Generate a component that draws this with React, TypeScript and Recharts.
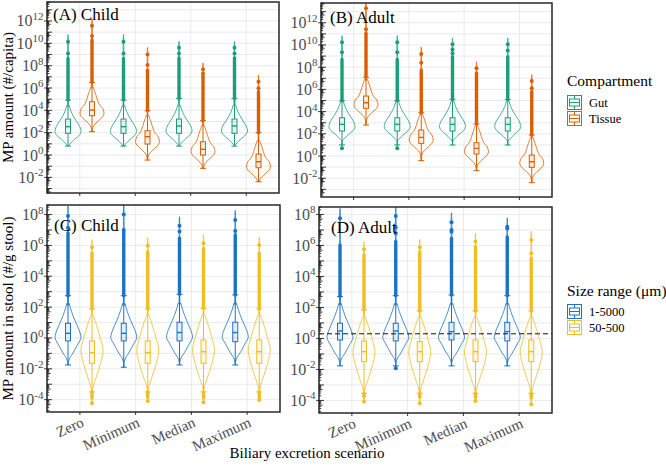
import React from 'react';
import { ComposedChart, Bar, XAxis, YAxis, CartesianGrid, ReferenceLine } from 'recharts';

const FONT = '"Liberation Serif", "Times New Roman", serif';

// all values are log10 of the quantity
const scenarios = ['Zero', 'Minimum', 'Median', 'Maximum'];

const childGut = [
  { max: 10.14, dots: [9.1], dense: 8.65, whiHi: 4.92, q3: 3.22, med: 2.54, q1: 1.94, whiLo: 0.8, min: 0.8, peak: 2.1 },
  { max: 10.14, dots: [9.1], dense: 8.65, whiHi: 4.92, q3: 3.22, med: 2.54, q1: 1.94, whiLo: 0.8, min: 0.8, peak: 2.1 },
  { max: 9.6, dots: [9.1], dense: 8.7, whiHi: 5.07, q3: 3.22, med: 2.6, q1: 1.94, whiLo: 0.8, min: 0.8, peak: 2.15 },
  { max: 9.6, dots: [9.1], dense: 8.7, whiHi: 5.07, q3: 3.22, med: 2.6, q1: 1.94, whiLo: 0.8, min: 0.8, peak: 2.15 },
];
const childTissue = [
  { max: 11.58, dots: [10.65], dense: 10.3, whiHi: 6.5, q3: 4.77, med: 4.03, q1: 3.52, whiLo: 2.09, min: 2.09, peak: 3.73 },
  { max: 9.0, dots: [8.06], dense: 7.6, whiHi: 3.97, q3: 2.18, med: 1.64, q1: 0.98, whiLo: -0.45, min: -0.45, peak: 1.19 },
  { max: 7.67, dots: [7.3], dense: 7.1, whiHi: 3.07, q3: 1.19, med: 0.51, q1: 0.0, whiLo: -1.19, min: -1.19, peak: 0.3 },
  { max: 6.56, dots: [5.97], dense: 5.67, whiHi: 2.0, q3: 0.09, med: -0.6, q1: -1.14, whiLo: -2.39, min: -2.39, peak: -1.05 },
];
const adultGut = [
  { max: 10.24, dots: [9.34], dense: 8.7, whiHi: 4.98, q3: 3.45, med: 2.85, q1: 2.25, whiLo: 1.0, min: 0.69, peak: 2.64 },
  { max: 10.24, dots: [9.34], dense: 8.7, whiHi: 4.98, q3: 3.45, med: 2.85, q1: 2.25, whiLo: 1.0, min: 0.69, peak: 2.64 },
  { max: 10.06, dots: [9.6, 9.25], dense: 8.95, whiHi: 5.1, q3: 3.45, med: 2.85, q1: 2.25, whiLo: 0.99, min: 0.99, peak: 2.64 },
  { max: 10.06, dots: [9.5], dense: 8.95, whiHi: 5.1, q3: 3.45, med: 2.85, q1: 2.25, whiLo: 0.99, min: 0.99, peak: 2.64 },
];
const adultTissue = [
  { max: 13.3, dots: [11.41], dense: 11.05, whiHi: 7.09, q3: 5.4, med: 4.8, q1: 4.3, whiLo: 2.79, min: 2.79, peak: 4.6 },
  { max: 9.19, dots: [8.4], dense: 7.75, whiHi: 3.9, q3: 2.34, med: 1.68, q1: 1.14, whiLo: -0.42, min: -0.42, peak: 1.44 },
  { max: 7.9, dots: [], dense: 7.45, whiHi: 2.88, q3: 1.2, med: 0.69, q1: 0.18, whiLo: -1.32, min: -1.32, peak: 0.39 },
  { max: 6.76, dots: [6.1], dense: 5.8, whiHi: 1.89, q3: 0.09, med: -0.51, q1: -1.02, whiLo: -2.4, min: -2.4, peak: -0.66 },
];
const childLarge = [
  { max: 7.91, dots: [7.15], dense: 6.8, whiHi: 2.74, q3: 0.95, med: 0.3, q1: -0.19, whiLo: -1.75, min: -1.75, peak: 0.02 },
  { max: 8.0, dots: [7.0], dense: 6.89, whiHi: 2.74, q3: 0.95, med: 0.3, q1: -0.19, whiLo: -1.9, min: -1.9, peak: 0.02 },
  { max: 7.28, dots: [6.9], dense: 6.46, whiHi: 2.83, q3: 1.02, med: 0.35, q1: -0.19, whiLo: -1.75, min: -1.75, peak: 0.05 },
  { max: 7.65, dots: [6.93], dense: 6.68, whiHi: 2.79, q3: 1.02, med: 0.35, q1: -0.24, whiLo: -1.75, min: -1.75, peak: 0.05 },
];
const childSmall = [
  { max: 5.88, dots: [], dense: 5.49, whiHi: 1.88, q3: -0.19, med: -0.95, q1: -1.64, whiLo: -3.5, lowDense: -3.9, min: -4.23, peak: -0.78 },
  { max: 5.98, dots: [], dense: 5.59, whiHi: 1.88, q3: -0.19, med: -0.95, q1: -1.64, whiLo: -3.5, lowDense: -3.85, min: -4.08, peak: -0.78 },
  { max: 6.14, dots: [], dense: 5.81, whiHi: 1.92, q3: -0.13, med: -0.89, q1: -1.64, whiLo: -3.5, lowDense: -3.9, min: -4.17, peak: -0.75 },
  { max: 6.03, dots: [], dense: 5.49, whiHi: 1.88, q3: -0.13, med: -0.89, q1: -1.64, whiLo: -3.5, lowDense: -3.85, min: -4.02, peak: -0.75 },
];
const adultLarge = [
  { max: 7.75, dots: [], dense: 6.03, whiHi: 2.7, q3: 0.98, med: 0.48, q1: -0.1, whiLo: -1.77, min: -1.77, peak: 0.05 },
  { max: 7.9, dots: [7.15, 6.79], dense: 6.25, whiHi: 2.76, q3: 0.98, med: 0.48, q1: -0.16, whiLo: -1.77, min: -1.92, peak: 0.05 },
  { max: 7.5, dots: [7.0, 6.89], dense: 6.46, whiHi: 2.8, q3: 1.04, med: 0.44, q1: -0.1, whiLo: -1.77, min: -1.77, peak: 0.05 },
  { max: 7.21, dots: [7.1], dense: 6.55, whiHi: 2.76, q3: 1.04, med: 0.44, q1: -0.16, whiLo: -1.77, min: -1.77, peak: 0.05 },
];
const adultSmall = [
  { max: 5.75, dots: [], dense: 5.39, whiHi: 1.84, q3: -0.16, med: -0.85, q1: -1.5, whiLo: -3.54, lowDense: -3.76, min: -4.08, peak: -0.85 },
  { max: 5.88, dots: [], dense: 5.6, whiHi: 1.77, q3: -0.2, med: -0.85, q1: -1.5, whiLo: -3.54, lowDense: -3.8, min: -4.18, peak: -0.85 },
  { max: 6.25, dots: [], dense: 5.92, whiHi: 1.77, q3: -0.1, med: -0.85, q1: -1.5, whiLo: -3.54, lowDense: -3.8, min: -4.03, peak: -0.85 },
  { max: 6.35, dots: [5.5], dense: 5.17, whiHi: 1.77, q3: -0.1, med: -0.85, q1: -1.5, whiLo: -3.54, lowDense: -3.85, min: -4.24, peak: -0.85 },
];

// violin outlines: [decades from the peak, relative density]
const gutShape = [[-1.3, 0.03], [-1.05, 0.2], [-0.7, 0.5], [-0.35, 0.85], [0, 1], [0.45, 0.9], [0.9, 0.66], [1.4, 0.4], [1.8, 0.24], [2.3, 0.1], [2.8, 0.04]];
const tissueShape = [[-1.6, 0.03], [-1.25, 0.08], [-0.95, 0.25], [-0.6, 0.6], [-0.3, 0.88], [0, 1], [0.45, 0.89], [0.9, 0.56], [1.8, 0.28], [2.3, 0.12], [2.8, 0.04]];
const largeShape = [[-1.6, 0.04], [-1.3, 0.15], [-1.0, 0.38], [-0.4, 0.77], [0, 1], [0.5, 0.85], [1.1, 0.54], [1.7, 0.27], [2.2, 0.1], [2.6, 0.04]];
const smallShape = [[-2.7, 0.05], [-2.27, 0.15], [-1.62, 0.45], [-0.75, 0.82], [0, 1], [0.78, 0.75], [1.6, 0.42], [2.2, 0.14], [2.7, 0.04]];

const safeLine = 0.3; // dashed reference, 10^0.3

const GREEN = '#1b9e77';
const ORANGE = '#d95f02';
const BLUE = '#1a73c6';
const YELLOW = '#efbe22';

function interp(shape: number[][], off: number) {
  if (off <= shape[0][0] || off >= shape[shape.length - 1][0]) return 0.025;
  for (let i = 1; i < shape.length; i++) {
    const [a, wa] = shape[i - 1];
    const [b, wb] = shape[i];
    if (off <= b) return wa + ((off - a) / (b - a)) * (wb - wa);
  }
  return 0.025;
}

function smooth(pts: number[][]) {
  let d = `M${pts[0][0]},${pts[0][1]}`;
  for (let i = 0; i < pts.length - 1; i++) {
    const p0 = pts[i - 1] || pts[i];
    const p1 = pts[i];
    const p2 = pts[i + 1];
    const p3 = pts[i + 2] || p2;
    const c1x = p1[0] + (p2[0] - p0[0]) / 6;
    const c1y = p1[1] + (p2[1] - p0[1]) / 6;
    const c2x = p2[0] - (p3[0] - p1[0]) / 6;
    const c2y = p2[1] - (p3[1] - p1[1]) / 6;
    d += ` C${c1x},${c1y} ${c2x},${c2y} ${p2[0]},${p2[1]}`;
  }
  return d + 'Z';
}

function Violin(props: any) {
  const { x, y, width, height, payload, sk, color, half, shape } = props;
  const s = payload?.[sk];
  if (!s) return null;
  const top = Math.min(y, y + height);
  const k = Math.abs(height) / (s.max - s.min);
  const py = (v: number) => top + (s.max - v) * k;
  const cx = x + width / 2;
  const levels = [s.min, ...shape.map((p: number[]) => s.peak + p[0]).filter((v: number) => v > s.min && v < s.max), s.max];
  const right = levels.map((v: number) => [cx + half * interp(shape, v - s.peak), py(v)]);
  const left = levels.slice().reverse().map((v: number) => [cx - half * interp(shape, v - s.peak), py(v)]);
  const lowEnd = s.lowDense ?? s.whiLo;
  return (
    <g>
      <path d={smooth([...right, ...left])} fill="none" stroke={color} strokeWidth={1} strokeOpacity={0.8} />
      <line x1={cx} x2={cx} y1={py(s.whiHi)} y2={py(s.dense)} stroke={color} strokeWidth={3.4} strokeLinecap="round" />
      {[s.max, ...s.dots].map((d: number, i: number) => (
        <circle key={i} cx={cx} cy={py(d)} r={2} fill={color} />
      ))}
      <line x1={cx} x2={cx} y1={py(s.q3)} y2={py(s.whiHi)} stroke={color} strokeWidth={1} />
      <line x1={cx} x2={cx} y1={py(s.q1)} y2={py(s.whiLo)} stroke={color} strokeWidth={1} />
      <line x1={cx - 3} x2={cx + 3} y1={py(s.whiHi)} y2={py(s.whiHi)} stroke={color} strokeWidth={1} />
      <line x1={cx - 3} x2={cx + 3} y1={py(s.whiLo)} y2={py(s.whiLo)} stroke={color} strokeWidth={1} />
      <rect x={cx - 2.5} y={py(s.q3)} width={5} height={py(s.q1) - py(s.q3)} fill={color} fillOpacity={0.12} stroke={color} strokeWidth={1} />
      <line x1={cx - 2.5} x2={cx + 2.5} y1={py(s.med)} y2={py(s.med)} stroke={color} strokeWidth={1.4} />
      {s.lowDense !== undefined && (
        <line x1={cx} x2={cx} y1={py(s.whiLo)} y2={py(s.lowDense)} stroke={color} strokeWidth={3.4} strokeLinecap="round" />
      )}
      {s.min < lowEnd - 0.01 && <circle cx={cx} cy={py(s.min)} r={2} fill={color} />}
    </g>
  );
}

function logTicks(lo: number, hi: number) {
  const out: number[] = [];
  for (let n = Math.floor(lo); n <= Math.ceil(hi); n++) {
    for (let k = 1; k <= 9; k++) {
      const v = n + Math.log10(k);
      if (v >= lo && v <= hi) out.push(v);
    }
  }
  return out;
}

const makeYTick = (labels: number[]) => (p: any) => {
  const { x, y, payload } = p;
  const v = payload.value;
  const n = Math.round(v);
  const isDec = Math.abs(v - n) < 1e-6;
  const k = Math.round(Math.pow(10, v - Math.floor(v + 1e-9)));
  const len = isDec ? 5 : k === 5 ? 3.6 : 2.2;
  return (
    <g>
      <line x1={x} x2={x + len} y1={y} y2={y} stroke="#222" strokeWidth={0.9} />
      {isDec && labels.includes(n) && (
        <g>
          <line x1={x - 3} x2={x} y1={y} y2={y} stroke="#333" strokeWidth={0.9} />
          <text x={x - 3.5} y={y + 5.5} textAnchor="end" fontFamily={FONT} fontSize={16} fill="#4d4d4d">
            10<tspan dy={-6.5} fontSize={11}>{n}</tspan>
          </text>
        </g>
      )}
    </g>
  );
};

const XTick = (p: any) => {
  const { x, y, payload } = p;
  const tx = x + 5;
  const ty = y + 11;
  return (
    <text x={tx} y={ty} transform={`rotate(-24 ${tx} ${ty})`} textAnchor="end" fontFamily={FONT} fontSize={15} fill="#4d4d4d">
      {payload.value}
    </text>
  );
};
const NoTick = () => <g />;

function Panel(props: any) {
  const { left, top, width, height, margin, yWidth, xHeight, domain, labels, a, b, showX, refY } = props;
  const rows = scenarios.map((name, i) => ({ name, a: a.data[i], b: b.data[i] }));
  const decades: number[] = [];
  for (let n = Math.ceil(domain[0]); n <= Math.floor(domain[1]); n++) decades.push(n);
  return (
    <div style={{ position: 'absolute', left, top, width, height }}>
      <ComposedChart width={width} height={height} data={rows} margin={margin} barGap={0} style={{ overflow: 'visible' }}>
        <CartesianGrid stroke="#e4e4e4" strokeWidth={0.8} horizontalValues={decades} />
        <XAxis
          dataKey="name"
          type="category"
          padding={{ left: 5, right: 5 }}
          height={xHeight}
          tickSize={3}
          tickMargin={0}
          axisLine={false}
          stroke="#333"
          interval={0}
          tick={showX ? XTick : NoTick}
        />
        <YAxis
          type="number"
          domain={domain}
          allowDataOverflow
          width={yWidth}
          ticks={logTicks(domain[0], domain[1])}
          interval={0}
          tickSize={0}
          tickMargin={0}
          axisLine={false}
          tickLine={false}
          tick={makeYTick(labels)}
        />
        {[a, b].map((s: any, i: number) => (
          <Bar
            key={i}
            name={s.name}
            dataKey={(r: any) => [r[i === 0 ? 'a' : 'b'].min, r[i === 0 ? 'a' : 'b'].max]}
            barSize={24}
            isAnimationActive={false}
            shape={(p: any) => <Violin {...p} sk={i === 0 ? 'a' : 'b'} color={s.color} half={s.half} shape={s.shape} />}
          />
        ))}
        {refY !== undefined && <ReferenceLine y={refY} stroke="#111" strokeDasharray="5 3" strokeWidth={1} />}
      </ComposedChart>
    </div>
  );
}

function Key({ x, y, c }: { x: number; y: number; c: string }) {
  const s = 15;
  return (
    <g stroke={c} strokeWidth={1} fill="none">
      <rect x={x + 0.5} y={y + 0.5} width={s - 1} height={s - 1} />
      <rect x={x + 2.5} y={y + 4} width={s - 5} height={s - 8} />
      <line x1={x + 2.5} x2={x + s - 2.5} y1={y + s / 2} y2={y + s / 2} />
      <line x1={x + s / 2} x2={x + s / 2} y1={y + 0.5} y2={y + 4} />
      <line x1={x + s / 2} x2={x + s / 2} y1={y + s - 4} y2={y + s - 0.5} />
    </g>
  );
}

export default function App() {
  const gut = { name: 'Gut', color: GREEN, half: 13, shape: gutShape };
  const tissue = { name: 'Tissue', color: ORANGE, half: 12, shape: tissueShape };
  const large = { name: '1-5000', color: BLUE, half: 13, shape: largeShape };
  const small = { name: '50-500', color: YELLOW, half: 11, shape: smallShape };
  const txt = { fontFamily: FONT };
  return (
    <div style={{ position: 'absolute', left: 0, top: 0, width: 666, height: 470, background: '#fff' }}>
      <Panel left={0} top={0} width={282} height={200} margin={{ top: 2, right: 3, bottom: 0, left: 0 }}
        yWidth={47} xHeight={7} domain={[-3.4, 13.7]} labels={[-2, 0, 2, 4, 6, 8, 10, 12]}
        a={{ ...gut, data: childGut }} b={{ ...tissue, data: childTissue }} showX={false} />
      <Panel left={280} top={0} width={275} height={204} margin={{ top: 3, right: 3, bottom: 0, left: 0 }}
        yWidth={41} xHeight={7} domain={[-3.69, 13.78]} labels={[-2, 0, 2, 4, 6, 8, 10, 12]}
        a={{ ...gut, data: adultGut }} b={{ ...tissue, data: adultTissue }} showX={false} />
      <Panel left={0} top={200} width={283} height={270} margin={{ top: 5, right: 3, bottom: 0, left: 0 }}
        yWidth={47} xHeight={58} domain={[-4.8, 8.62]} labels={[-4, -2, 0, 2, 4, 6, 8]}
        a={{ ...large, data: childLarge }} b={{ ...small, data: childSmall }} showX={true} />
      <Panel left={280} top={200} width={275} height={270} margin={{ top: 7, right: 3, bottom: 0, left: 0 }}
        yWidth={39} xHeight={57} domain={[-4.81, 8.48]} labels={[-4, -2, 0, 2, 4, 6, 8]}
        a={{ ...large, data: adultLarge }} b={{ ...small, data: adultSmall }} showX={true} refY={safeLine} />

      <svg width={666} height={470} style={{ position: 'absolute', left: 0, top: 0, pointerEvents: 'none' }}>
        <g fill="none" stroke="#1a1a1a" strokeWidth={1.4}>
          <rect x={47} y={2} width={232} height={191} />
          <rect x={321} y={3} width={231} height={194} />
          <rect x={47} y={205} width={233} height={207} />
          <rect x={319} y={207} width={233} height={206} />
        </g>
        <g {...txt} fontSize={17} fill="#000">
          <text x={53} y={20}>(A) Child</text>
          <text x={330} y={23}>(B) Adult</text>
          <text x={54} y={231}>(C) Child</text>
          <text x={331} y={233}>(D) Adult</text>
        </g>
        <g {...txt} fontSize={15} fill="#000" textAnchor="middle">
          <text transform="rotate(-90)" x={-97.5} y={13}>MP amount (#/capita)</text>
          <text transform="rotate(-90)" x={-308.5} y={13}>MP amount in stool (#/g stool)</text>
          <text x={307} y={458}>Biliary excretion scenario</text>
        </g>
        <g {...txt} fill="#000">
          <text x={567} y={86} fontSize={15.5}>Compartment</text>
          <Key x={567} y={95} c={GREEN} />
          <Key x={567} y={111} c={ORANGE} />
          <text x={589} y={107} fontSize={12.5}>Gut</text>
          <text x={589} y={123} fontSize={12.5}>Tissue</text>
          <text x={567} y={296} fontSize={15.5}>Size range (μm)</text>
          <Key x={567} y={304} c={BLUE} />
          <Key x={567} y={320} c={YELLOW} />
          <text x={589} y={316} fontSize={12.5}>1-5000</text>
          <text x={589} y={332} fontSize={12.5}>50-500</text>
        </g>
      </svg>
    </div>
  );
}
